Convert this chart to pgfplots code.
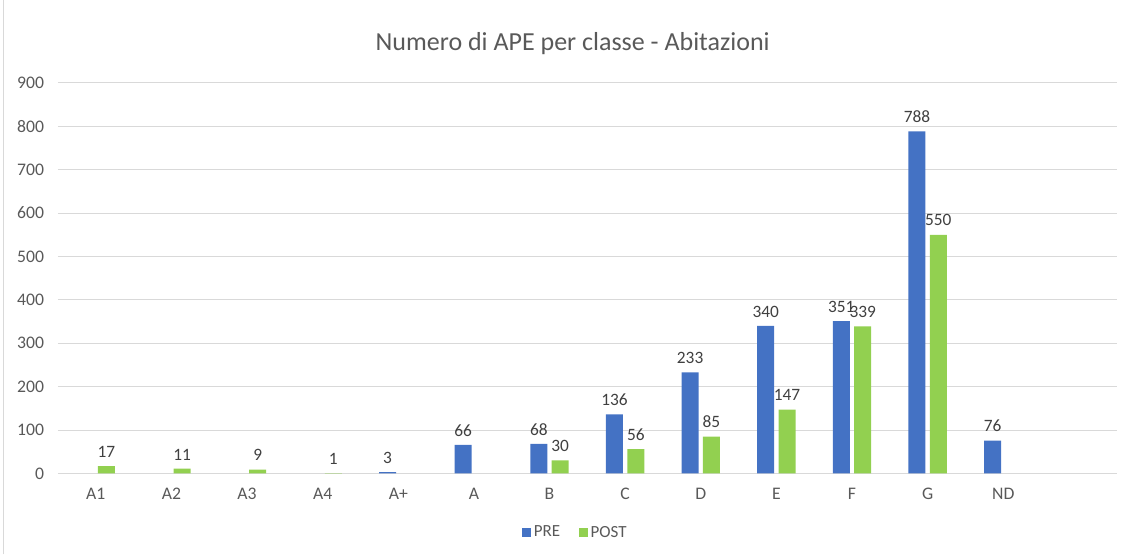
\documentclass[border=0pt]{standalone}
\usepackage{pgfplots}
\pgfplotsset{compat=1.18}
\usepackage{fontspec}
\setmainfont{Carlito}
\definecolor{pre}{HTML}{4472C4}
\definecolor{post}{HTML}{92D050}
\definecolor{txt}{HTML}{595959}
\definecolor{lbl}{HTML}{404040}
\definecolor{gridc}{HTML}{D9D9D9}
\begin{document}
\begin{tikzpicture}
\begin{axis}[
  scale only axis, width=794pt, height=293pt,
  xmin=-0.5, xmax=13.5, ymin=0, ymax=900,
  ybar=3.25pt, bar width=12.75pt,
  xtick={0,...,12},
  xticklabels={A1,A2,A3,A4,A+,A,B,C,D,E,F,G,ND},
  ytick={0,100,...,900},
  ymajorgrids, grid style={gridc, line width=0.75pt},
  separate axis lines,
  axis x line*=bottom, axis y line*=left,
  x axis line style={gridc, line width=0.75pt, -},
  y axis line style={draw=none},
  major tick length=0pt,
  /pgf/number format/assume math mode=true,
  tick label style={font=\fontsize{13.25}{15}\selectfont, text=txt},
  xticklabel style={yshift=-7.2pt},
  yticklabel style={xshift=-7pt},
  nodes near coords,
  every node near coord/.append style={font=\fontsize{13}{15}\selectfont, text=lbl, yshift=3pt},
  title={Numero di APE per classe - Abitazioni},
  title style={at={(0.5,1)}, anchor=center, yshift=23.25pt, xshift=-11pt, font=\fontsize{19.5}{22}\selectfont, text=txt},
  legend style={at={(0.489,0)}, anchor=center, yshift=-44.25pt, draw=none, fill=none,
    legend columns=-1, font=\fontsize{12.75}{14}\selectfont, text=txt,
    /tikz/every even column/.append style={column sep=12pt}},
  legend image code/.code={\fill[#1] (0pt,-3.4pt) rectangle (6.8pt,3.4pt);},
]
\addplot[fill=pre, draw=none] coordinates {(4,3) (5,66) (6,68) (7,136) (8,233) (9,340) (10,351) (11,788) (12,76)};
\addplot[fill=post, draw=none] coordinates {(0,17) (1,11) (2,9) (3,1) (6,30) (7,56) (8,85) (9,147) (10,339) (11,550)};
\legend{PRE,POST}
\end{axis}
\pgfresetboundingbox
\path (current axis.south west) ++(-43.5pt,-60.75pt) coordinate (bl);
\path (current axis.south west) ++(804pt,354.75pt) coordinate (tr);
\path (bl) rectangle (tr);
\draw[gridc, line width=0.75pt] ([xshift=3pt]bl) -- ([xshift=3pt]bl |- tr);
\end{tikzpicture}
\end{document}
